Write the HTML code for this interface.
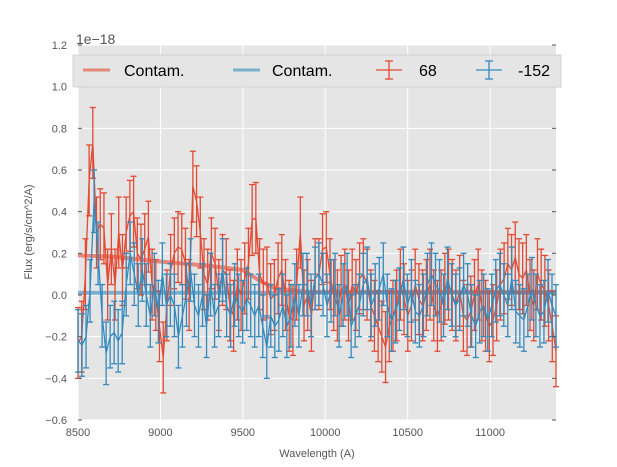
<!DOCTYPE html>
<html><head><meta charset="utf-8"><style>
body{margin:0;background:#fff;}
svg{display:block;font-family:"Liberation Sans",sans-serif;}
</style></head><body>
<svg id="chart" width="617" height="467" viewBox="0 0 617 467" xmlns="http://www.w3.org/2000/svg">
<rect x="78" y="45" width="478" height="375" fill="#E5E5E5"/>
<g id="grid"></g>
<g id="contam"></g>
<g id="series"></g>
<g id="axes"></g>
<text x="76" y="44" font-size="14" fill="#555">1e−18</text>
<text x="317" y="457" font-size="11" fill="#555" text-anchor="middle">Wavelength (A)</text>
<text transform="translate(32,232) rotate(-90)" font-size="11" fill="#555" text-anchor="middle">Flux (erg/s/cm^2/A)</text>
<g>
<rect x="73" y="55" width="488" height="32" fill="#E5E5E5" stroke="#ccc" stroke-width="0.8"/>
<g>
<line x1="83" y1="70" x2="110" y2="70" stroke="#E24A33" stroke-width="3" opacity="0.6"/>
<text x="124" y="76" font-size="16" fill="#000">Contam.</text></g>
<g>
<line x1="233" y1="70" x2="260" y2="70" stroke="#348ABD" stroke-width="3" opacity="0.6"/>
<text x="272" y="76" font-size="16" fill="#000">Contam.</text></g>
<g stroke="#E24A33" stroke-width="1.3">
<line x1="376" y1="70" x2="402" y2="70"/><line x1="389" y1="61" x2="389" y2="79"/>
<line x1="385" y1="61" x2="393" y2="61"/><line x1="385" y1="79" x2="393" y2="79"/>
<text x="419" y="76" font-size="16" fill="#000" stroke="none">68</text></g>
<g stroke="#348ABD" stroke-width="1.3">
<line x1="476" y1="70" x2="502" y2="70"/><line x1="489" y1="61" x2="489" y2="79"/>
<line x1="485" y1="61" x2="493" y2="61"/><line x1="485" y1="79" x2="493" y2="79"/>
<text x="518" y="76" font-size="16" fill="#000" stroke="none">-152</text></g>
</g>
</svg>
<script>
const xTicks=[8500,9000,9500,10000,10500,11000];
const yTicks=[-0.6,-0.4,-0.2,0.0,0.2,0.4,0.6,0.8,1.0,1.2];
const yTickLabels=["−0.6","−0.4","−0.2","0.0","0.2","0.4","0.6","0.8","1.0","1.2"];
const waveStart=8500, waveEnd=11400;
const redFlux=[-0.23,-0.2,0.1,0.55,0.73,0.3,0.34,0.32,0.05,0.22,0.05,0.3,0.12,0.3,0.38,0.4,0.2,0.17,0.22,0.28,0.05,0.0,-0.15,-0.3,-0.05,0.12,0.2,0.23,0.22,0.15,0.0,0.52,0.45,0.3,0.1,0.05,0.2,0.15,0.0,0.12,0.1,-0.05,-0.1,0.05,0.0,0.08,0.15,0.36,0.37,0.1,0.05,0.06,-0.02,0.0,0.08,0.12,0.0,-0.1,-0.12,0.05,
0.3,-0.05,0.0,-0.1,0.1,0.1,0.22,0.23,0.1,0.0,-0.05,0.02,0.05,-0.05,0.05,0.0,0.08,0.1,0.05,-0.05,-0.1,-0.15,-0.2,-0.25,-0.15,-0.1,-0.05,0.05,-0.02,-0.1,-0.05,0.05,-0.02,-0.05,0.0,0.05,-0.05,-0.1,-0.05,0.03,0.05,0.0,-0.05,0.02,-0.1,-0.12,-0.08,0.0,0.05,-0.05,-0.1,-0.15,-0.12,-0.05,0.05,0.08,0.15,0.12,0.18,0.1,0.08,0.12,0.0,-0.05,0.1,0.05,0.02,-0.05,-0.15,-0.27];
const blueFlux=[-0.22,-0.24,-0.2,0.02,0.45,0.2,-0.1,-0.28,-0.2,-0.18,-0.22,-0.18,0.05,0.2,0.1,0.0,0.12,0.0,-0.1,0.05,-0.08,0.1,-0.05,0.0,-0.05,-0.2,-0.1,0.0,0.12,-0.05,-0.1,0.0,-0.15,0.05,-0.1,-0.05,0.12,-0.05,-0.1,0.0,-0.05,-0.08,-0.02,-0.05,-0.1,-0.05,-0.15,-0.25,-0.1,-0.15,-0.12,-0.05,-0.15,-0.1,0.0,-0.1,0.05,0.05,-0.05,0.08,
0.1,0.05,-0.05,0.02,0.05,-0.1,0.0,0.05,-0.15,-0.1,-0.05,0.05,0.08,-0.05,0.0,0.03,0.1,-0.05,-0.12,-0.08,-0.02,0.08,-0.05,0.02,-0.08,-0.1,-0.05,0.05,0.1,0.05,0.02,-0.05,0.08,0.0,-0.05,-0.02,0.05,0.0,-0.1,-0.15,-0.08,-0.05,-0.12,-0.05,0.02,0.05,0.0,-0.05,0.08,-0.08,-0.1,-0.12,-0.05,0.03,-0.05,-0.1,-0.08,0.02,-0.05,-0.1];
const redErr=0.17, blueErr=0.15;
const contamRedWave=[8500,8700,9000,9300,9500,9600,9700,9900,11400];
const contamRedFlux=[0.19,0.185,0.16,0.14,0.12,0.07,0.03,0.015,0.015];
const contamBlueWave=[8500,11400];
const contamBlueFlux=[0.01,0.01];

const NS="http://www.w3.org/2000/svg";
const X0=78,X1=556,Y0=420,Y1=45;
const xs=v=>X0+(v-8500)/(11400-8500)*(X1-X0);
const ys=v=>Y0-(v+0.6)/1.8*(Y0-Y1);
function mk(tag,attrs,parent){const e=document.createElementNS(NS,tag);for(const k in attrs)e.setAttribute(k,attrs[k]);parent.appendChild(e);return e;}
const grid=document.getElementById('grid'),axes=document.getElementById('axes');
xTicks.forEach(t=>{
 const l=mk('line',{x1:xs(t),x2:xs(t),y1:Y1,y2:Y0,stroke:'#fff','stroke-width':1},grid);
 
 
 const tx=mk('text',{x:xs(t),y:Y0+16,'font-size':11,fill:'#555','text-anchor':'middle'},axes);
 tx.textContent=t;
 
 
});
yTicks.forEach((t,i)=>{
 const l=mk('line',{x1:X0,x2:X1,y1:ys(t),y2:ys(t),stroke:'#fff','stroke-width':1},grid);
 
 
 mk('line',{x1:X0,x2:X0+4,y1:ys(t),y2:ys(t),stroke:'#555'},axes);
 mk('line',{x1:X1-4,x2:X1,y1:ys(t),y2:ys(t),stroke:'#555'},axes);
 const tx=mk('text',{x:X0-11,y:ys(t)+4,'font-size':11,fill:'#555','text-anchor':'end'},axes);
 tx.textContent=yTickLabels[i];
 
 
});
const cg=document.getElementById('contam');
function poly(wv,fl,color,w,op,name,parent){
 const p=mk('polyline',{points:wv.map((v,i)=>xs(v)+','+ys(fl[i])).join(' '),fill:'none',stroke:color,'stroke-width':w,opacity:op,'stroke-linejoin':'round'},parent);
 
 
}
poly(contamRedWave,contamRedFlux,'#E24A33',4,0.6,'contam-line-red',cg);
poly(contamBlueWave,contamBlueFlux,'#348ABD',4,0.6,'contam-line-blue',cg);
const sg=document.getElementById('series');
function series(fl,err,color,name){
 const n=fl.length;
 const waves=fl.map((v,i)=>waveStart+i*(waveEnd-waveStart)/(n-1));
 const g=mk('g',{stroke:color,'stroke-width':1.3},sg);
 
 
 fl.forEach((v,i)=>{const x=xs(waves[i]);
  mk('line',{x1:x,x2:x,y1:ys(v-err),y2:ys(v+err)},g);
  mk('line',{x1:x-3,x2:x+3,y1:ys(v-err),y2:ys(v-err)},g);
  mk('line',{x1:x-3,x2:x+3,y1:ys(v+err),y2:ys(v+err)},g);});
 mk('polyline',{points:fl.map((v,i)=>xs(waves[i])+','+ys(v)).join(' '),fill:'none'},g);
}
series(redFlux,redErr,'#E24A33','series-68');
series(blueFlux,blueErr,'#348ABD','series-minus152');
</script>
</body></html>
